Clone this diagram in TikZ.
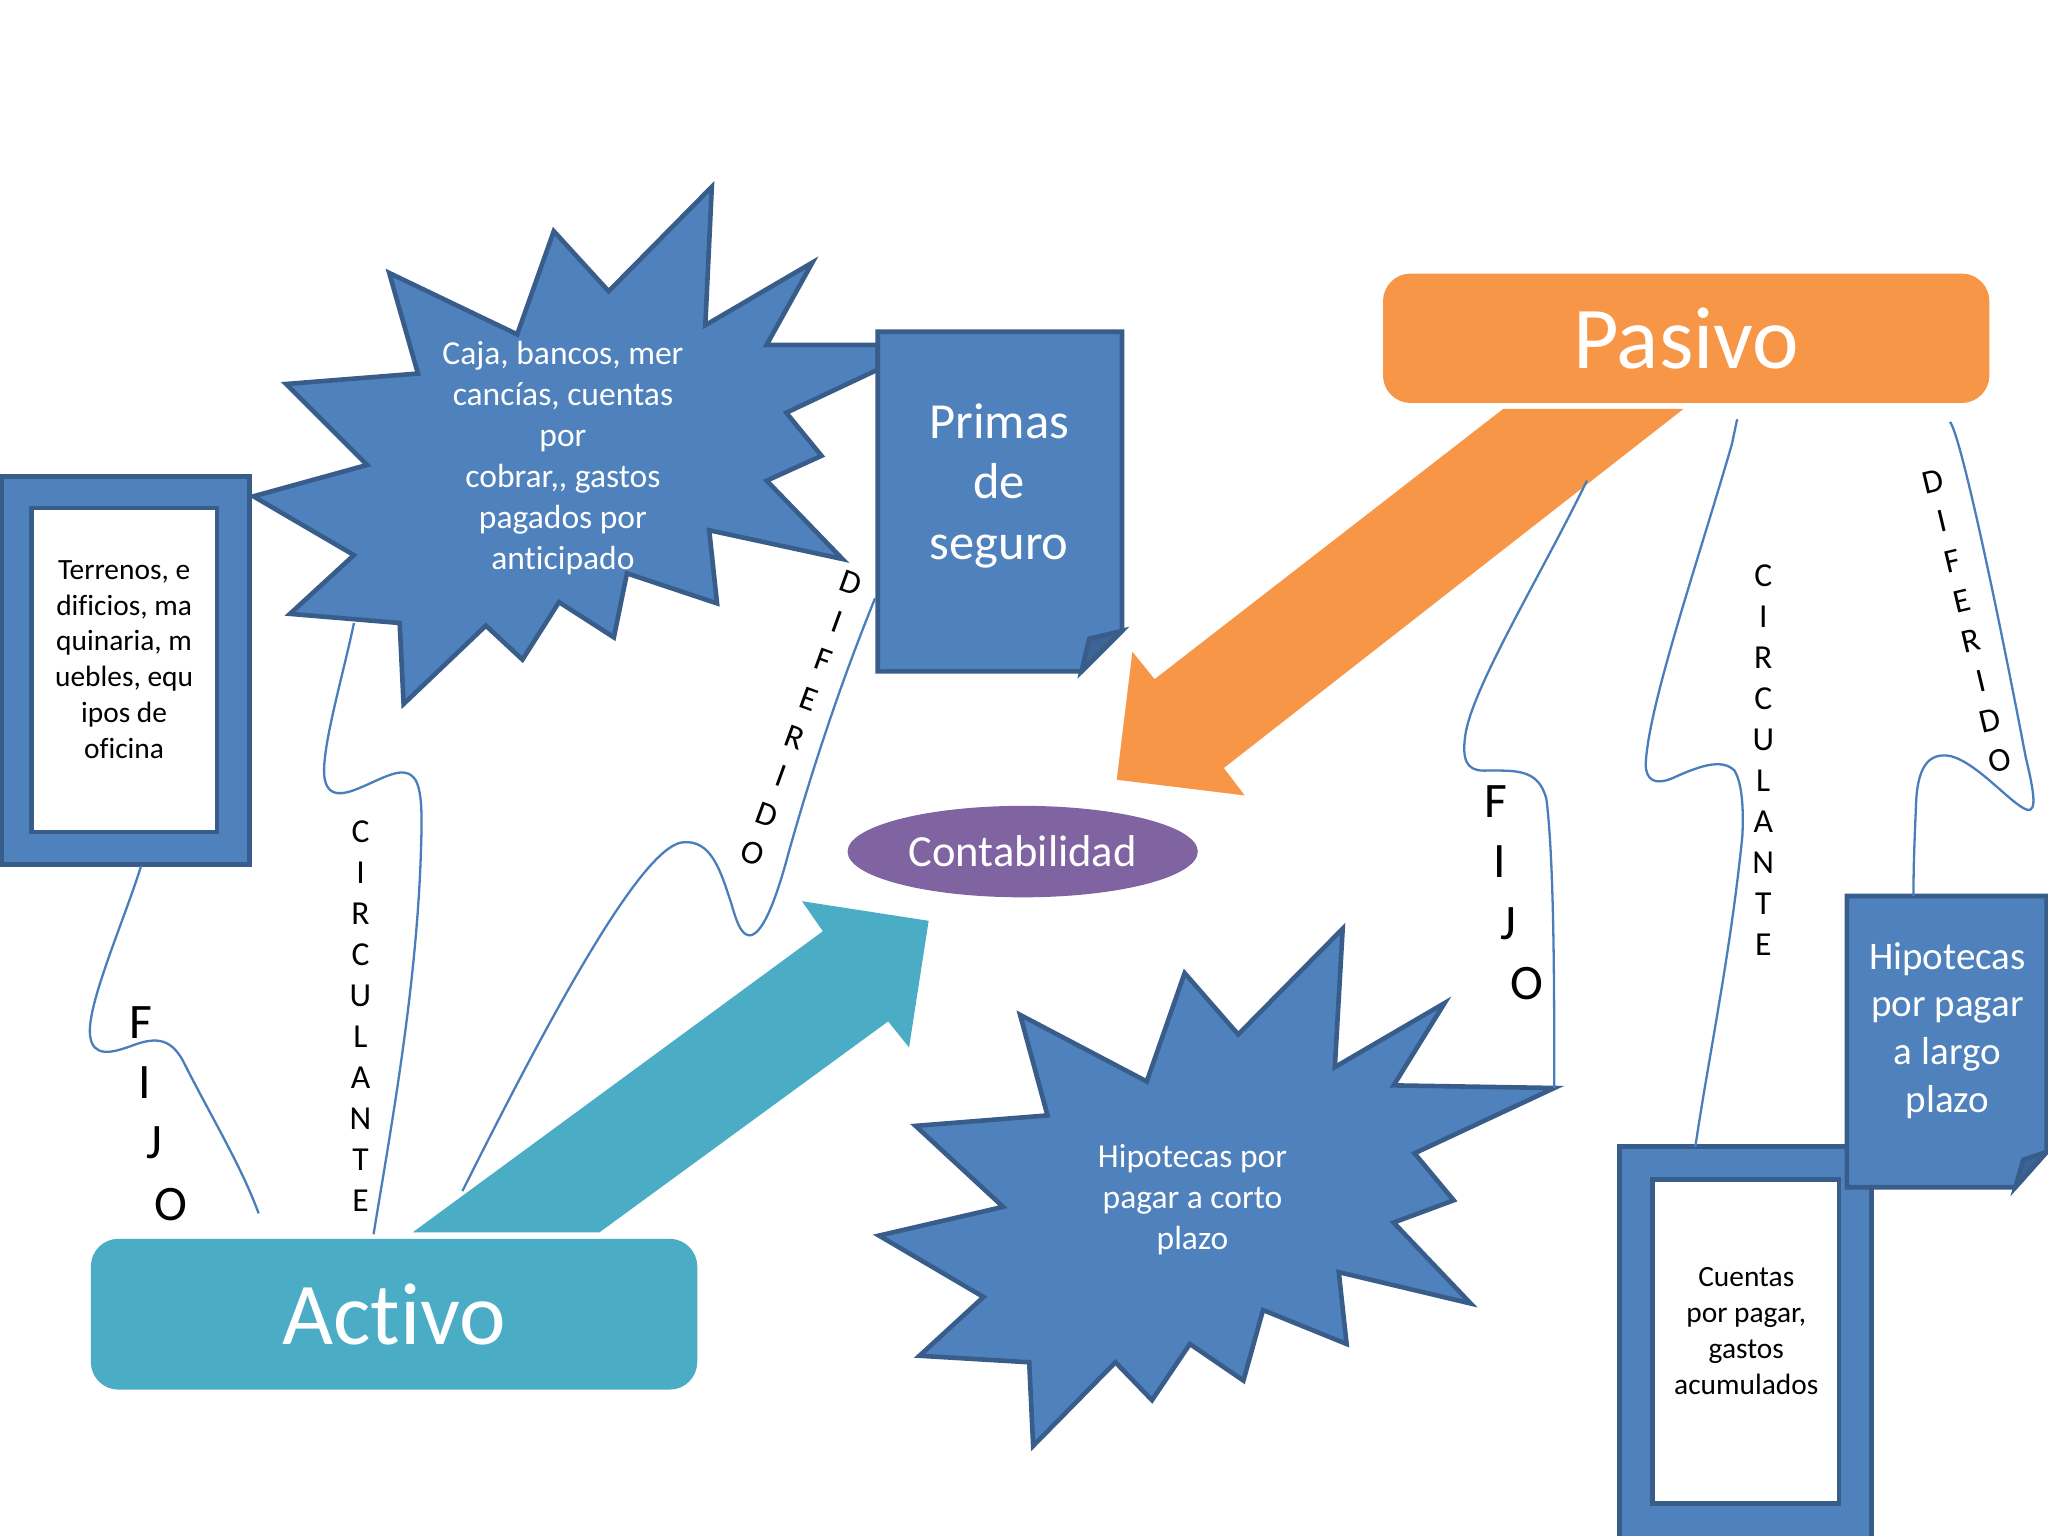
\documentclass[tikz,border=0pt]{standalone}
\usepackage{fontspec}
\setmainfont{Carlito}[Ligatures=NoCommon]
\usetikzlibrary{shapes.geometric}
\definecolor{bfill}{HTML}{4F81BD}
\definecolor{bline}{HTML}{385D8A}
\definecolor{tealc}{HTML}{4BACC6}
\definecolor{orangec}{HTML}{F79646}
\definecolor{purplec}{HTML}{8064A2}
\definecolor{foldc}{HTML}{3D6494}
\definecolor{wavec}{HTML}{4A7EBB}
\tikzset{
 shapeb/.style={draw=bline, line width=1pt, fill=bfill, line join=miter},
 wave/.style={draw=wavec, line width=0.5pt},
 wtext/.style={text=white, align=center, inner sep=0pt},
 btext/.style={text=black, align=center, inner sep=0pt},
 vlet/.style={inner sep=0pt, align=center, font=\fontsize{7.3pt}{8.93pt}\selectfont},
 biglet/.style={inner sep=0pt, font=\fontsize{10.8pt}{13pt}\selectfont},
 smallf/.style={font=\fontsize{6.4pt}{7.8pt}\selectfont},
 midf/.style={font=\fontsize{7.3pt}{8.93pt}\selectfont},
}
\begin{document}
\begin{tikzpicture}[x=0.01cm,y=-0.01cm]
\useasboundingbox (0,0) rectangle (1568,1176);
\fill[white] (0,0) rectangle (1568,1176);

% ---- starburst 1
\draw[shapeb] (545,143) -- (540,249) -- (622,201) -- (587,264) -- (672,264) -- (672,283) -- (602,316) -- (629,349) -- (587,368) -- (645,428) -- (543,406) -- (549,462) -- (480,439) -- (470,488) -- (428,461) -- (400,505) -- (372,479) -- (309,539) -- (306,477) -- (222,470) -- (271,425) -- (194,380) -- (281,356) -- (219,294) -- (320,286) -- (298,209) -- (396,256) -- (424,177) -- (466,223) -- cycle;
\node[wtext, midf] (b1text) at (431,351) {Caja, bancos, mer\\cancías, cuentas\\por\\cobrar,{}, gastos\\pagados por\\anticipado};

% ---- Terrenos frame
\draw[shapeb] (1,365) rectangle (191,662);
\draw[draw=bline, line width=1pt, fill=white] (24,389) rectangle (166,637);
\node[btext, smallf] (terr) at (95,505) {Terrenos, e\\dificios, ma\\quinaria, m\\uebles, equ\\ipos de\\oficina};

% ---- Primas de seguro (folded corner)
\draw[shapeb] (672,254) -- (859,254) -- (859,483) -- (828,514) -- (672,514) -- cycle;
\draw[draw=bline, line width=1pt, fill=foldc, line join=miter] (828,514) -- (834,489) -- (859,483) -- cycle;
\node[wtext, font=\fontsize{11pt}{13.2pt}\selectfont] (primas) at (765,372) {Primas\\de\\seguro};

% ---- Pasivo
\node[fill=orangec, rounded corners=6, minimum width=4.64cm, minimum height=0.99cm, inner sep=0pt, text=white, font=\fontsize{19.2pt}{23pt}\selectfont] (pasivo) at (1291,259) {Pasivo};

% ---- Activo
\node[fill=tealc, rounded corners=6, minimum width=4.64cm, minimum height=1.154cm, inner sep=0pt, text=white, font=\fontsize{19.2pt}{23pt}\selectfont] (activo) at (301.7,1006.2) {Activo};

% ---- block arrows
\fill[orangec] (1151,313) -- (1289,313) -- (937,588) -- (953,609) -- (855,597) -- (867,499) -- (884,520) -- cycle;
\fill[tealc] (316,943.5) -- (459,943.5) -- (680,782) -- (696,802) -- (711,705) -- (614,690) -- (630,713) -- cycle;

% ---- Contabilidad
\node[ellipse, fill=purplec, minimum width=2.68cm, minimum height=0.70cm, inner sep=0pt, text=white, font=\fontsize{9.7pt}{11.5pt}\selectfont] (conta) at (783,652) {Contabilidad};

% ---- starburst 2
\draw[shapeb] (1028,711) -- (1022,817) -- (1106,768) -- (1067,831) -- (1190,833) -- (1083,883) -- (1113,919) -- (1067,936) -- (1126,998) -- (1025,974) -- (1031,1029) -- (967,1003) -- (952,1057) -- (911,1029) -- (882,1072) -- (854,1043) -- (791,1107) -- (788,1043) -- (704,1038) -- (753,993) -- (673,946) -- (768,924) -- (701,862) -- (802,854) -- (781,777) -- (878,828) -- (907,745) -- (948,792) -- cycle;
\node[wtext, midf] (b2text) at (913,918.5) {Hipotecas por\\pagar a corto\\plazo};

% ---- Cuentas frame
\draw[shapeb] (1240,878) rectangle (1433,1190);
\draw[draw=bline, line width=1pt, fill=white] (1265,903) rectangle (1408,1151);
\node[btext, smallf] (cuentas) at (1337,1019) {Cuentas\\por pagar,\\gastos\\acumulados};

% ---- Hipotecas largo plazo (folded corner)
\draw[shapeb] (1414,686) -- (1567,686) -- (1567,882) -- (1543,909) -- (1414,909) -- cycle;
\draw[draw=bline, line width=1pt, fill=foldc, line join=miter] (1543,909) -- (1549,888) -- (1567,882) -- cycle;
\node[wtext, font=\fontsize{8.5pt}{10.4pt}\selectfont] (hlargo) at (1491,789) {Hipotecas\\por pagar\\a largo\\plazo};

% ---- wave connectors (left)
\coordinate (lf1) at (108,663);
\coordinate (lf2) at (198,929);
\draw[wave] (lf1) .. controls (95,705) and (66,770) .. (69,793) .. controls (71,810) and (86,806) .. (100,801) .. controls (118,794) and (130,794) .. (140,812) .. controls (160,852) and (185,893) .. (lf2);

\coordinate (lc1) at (271,477);
\coordinate (lc2) at (286,945);
\draw[wave] (lc1) .. controls (262,520) and (244,580) .. (249,598) .. controls (252,610) and (262,609) .. (276,603) .. controls (295,595) and (310,585) .. (318,597) .. controls (324,607) and (323,630) .. (322,660) .. controls (318,760) and (300,860) .. (lc2);

\coordinate (ld1) at (354,912);
\coordinate (ld2) at (670,458);
\draw[wave] (ld1) .. controls (420,780) and (490,650) .. (522,645) .. controls (545,642) and (552,668) .. (560,692) .. controls (565,710) and (569,717) .. (575,716) .. controls (584,714) and (594,690) .. (604,652) .. controls (630,560) and (655,495) .. (ld2);

% ---- wave connectors (right)
\coordinate (rf1) at (1215,368);
\coordinate (rf2) at (1190,833);
\draw[wave] (rf1) .. controls (1180,440) and (1128,525) .. (1122,562) .. controls (1119,582) and (1123,590) .. (1136,590) .. controls (1160,590) and (1178,588) .. (1184,612) .. controls (1190,660) and (1190,760) .. (rf2);

\coordinate (rc1) at (1330,321);
\coordinate (rc2) at (1298,878);
\draw[wave] (rc1) -- (1326,340) .. controls (1300,430) and (1262,540) .. (1260,585) .. controls (1260,598) and (1268,601) .. (1280,596) .. controls (1300,587) and (1318,580) .. (1328,590) .. controls (1334,600) and (1335,620) .. (1334,640) .. controls (1325,730) and (1308,810) .. (rc2);

\coordinate (rd1) at (1493,323);
\coordinate (rd2) at (1465,686);
\draw[wave] (rd1) .. controls (1502,335) and (1532,480) .. (1551,580) .. controls (1557,605) and (1560,622) .. (1552,620) .. controls (1540,616) and (1515,585) .. (1494,579) .. controls (1475,575) and (1468,590) .. (1467,615) .. controls (1466,640) and (1465,660) .. (rd2);

% ---- vertical letters
\node[vlet] (lcirc) at (276,778) {C\\I\\R\\C\\U\\L\\A\\N\\T\\E};
\node[vlet] (rcirc) at (1350,582) {C\\I\\R\\C\\U\\L\\A\\N\\T\\E};
\node[vlet, rotate=-20] (ldif) at (614,550) {D\\I\\F\\E\\R\\I\\D\\O};
\node[vlet, rotate=13.5] (rdif) at (1505.5,475.5) {D\\I\\F\\E\\R\\I\\D\\O};

\node[biglet] (lF) at (108,783) {F};
\node[biglet] (lI) at (111,829) {I};
\node[biglet] (lJ) at (118,875) {J};
\node[biglet] (lO) at (131,922) {O};
\node[biglet] (rF) at (1145,614) {F};
\node[biglet] (rI) at (1148,660) {I};
\node[biglet] (rJ) at (1155,707) {J};
\node[biglet] (rO) at (1169,753) {O};
\end{tikzpicture}
\end{document}
